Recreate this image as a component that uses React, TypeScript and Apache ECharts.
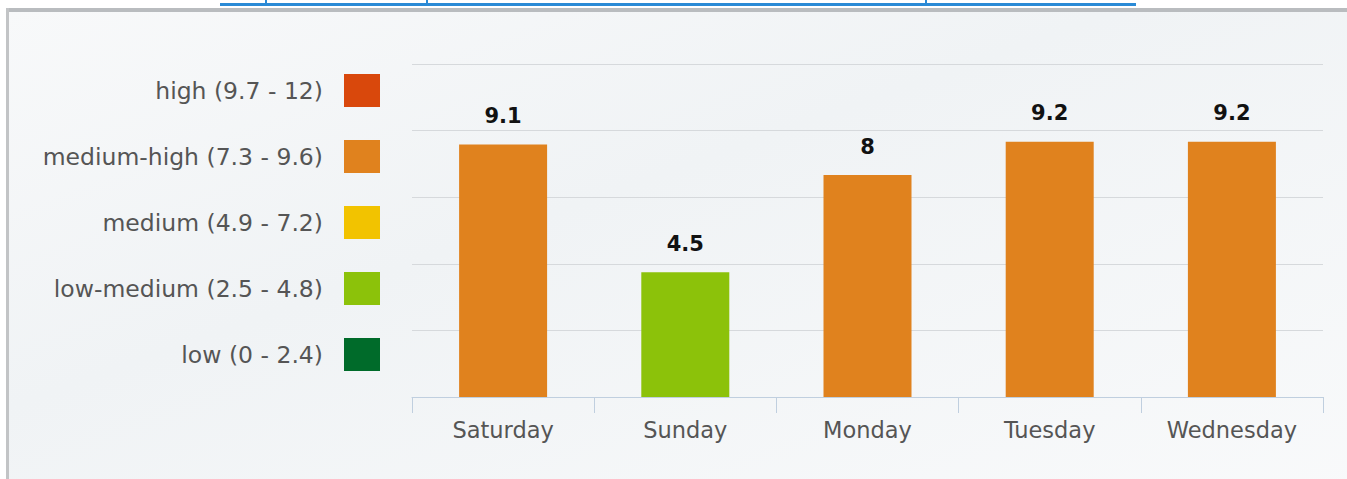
import React, { useEffect, useRef } from "react";
import * as echarts from "echarts";

const days = ["Saturday", "Sunday", "Monday", "Tuesday", "Wednesday"];
const values = [9.1, 4.5, 8, 9.2, 9.2];
const rangeLabels = ["low (0 - 2.4)", "low-medium (2.5 - 4.8)", "medium (4.9 - 7.2)", "medium-high (7.3 - 9.6)", "high (9.7 - 12)"];
const rangeMins = [0, 2.5, 4.9, 7.3, 9.7];
const rangeMaxs = [2.4, 4.8, 7.2, 9.6, 12];
const rangeColors = ["#006b2a", "#8cc20a", "#f2c300", "#e0821e", "#d9480c"];
const yMin = 0;
const yMax = 12;
const yInterval = 2.4;

export default function App() {
  const ref = useRef<HTMLDivElement>(null);
  useEffect(() => {
    if (!ref.current) return;
    const chart = echarts.init(ref.current, null, { renderer: "svg" });
    const pieces = rangeLabels.map((label, i) => ({
      min: rangeMins[i],
      max: rangeMaxs[i],
      label,
      color: rangeColors[i],
    }));
    chart.setOption({
      animation: false,
      backgroundColor: "#ffffff",
      graphic: [
        {
          type: "rect",
          z: -10,
          shape: { x: 6, y: 8, width: 1400, height: 500 },
          style: {
            fill: new echarts.graphic.LinearGradient(0, 0, 1, 1, [
              { offset: 0, color: "#f8f9fa" },
              { offset: 0.4, color: "#f0f3f5" },
              { offset: 1, color: "#f9fafb" },
            ]),
          },
        },
        { type: "rect", z: -9, shape: { x: 6, y: 8, width: 1400, height: 4 }, style: { fill: "#b9bcbf" } },
        { type: "rect", z: -9, shape: { x: 6, y: 8, width: 3, height: 480 }, style: { fill: "#c2c4c6" } },
        { type: "rect", z: -9, shape: { x: 220, y: 3, width: 916, height: 3 }, style: { fill: "#2a8ad6" } },
        { type: "rect", z: -9, shape: { x: 265, y: 0, width: 2, height: 6 }, style: { fill: "#2a8ad6" } },
        { type: "rect", z: -9, shape: { x: 426, y: 0, width: 2, height: 6 }, style: { fill: "#2a8ad6" } },
        { type: "rect", z: -9, shape: { x: 925, y: 0, width: 2, height: 6 }, style: { fill: "#2a8ad6" } },
      ],
      visualMap: {
        type: "piecewise",
        orient: "vertical",
        align: "right",
        right: 967,
        top: 74,
        padding: 0,
        itemWidth: 36,
        itemHeight: 33,
        itemGap: 33,
        itemSymbol: "rect",
        textGap: 21,
        pieces,
        selectedMode: false,
        textStyle: { color: "#555555", fontSize: 23.5, fontFamily: "DejaVu Sans" },
        seriesIndex: 0,
      },
      grid: { left: 412, right: 24, top: 64, bottom: 82 },
      xAxis: {
        type: "category",
        data: days,
        axisLine: { lineStyle: { color: "#c0cfdf", width: 1 } },
        axisTick: { show: true, length: 16, lineStyle: { color: "#c0cfdf" } },
        axisLabel: { color: "#555555", fontSize: 22.5, fontFamily: "DejaVu Sans", margin: 21 },
      },
      yAxis: {
        type: "value",
        min: yMin,
        max: yMax,
        interval: yInterval,
        axisLabel: { show: false },
        axisLine: { show: false },
        axisTick: { show: false },
        splitLine: { lineStyle: { color: "#d6d9dc", width: 1 } },
      },
      series: [
        {
          type: "bar",
          data: values,
          barWidth: 88,
          label: {
            show: true,
            position: "top",
            distance: 18,
            color: "#111111",
            fontWeight: "bold",
            fontSize: 21,
            fontFamily: "DejaVu Sans",
          },
        },
      ],
    });
    return () => chart.dispose();
  }, []);
  return <div ref={ref} style={{ position: "fixed", left: 0, top: 0, width: 1347, height: 479 }} />;
}
